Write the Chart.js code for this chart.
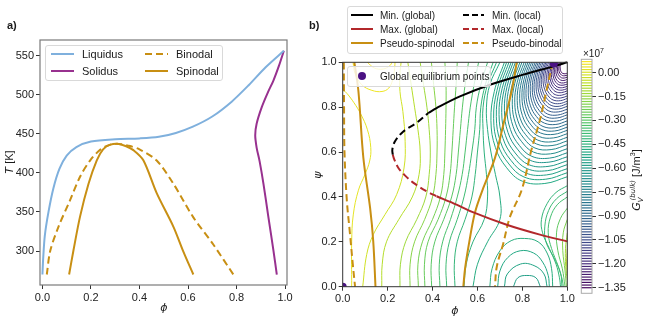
<!DOCTYPE html>
<html>
<head>
<meta charset="utf-8">
<script src="https://cdn.jsdelivr.net/npm/chart.js@4.4.1/dist/chart.umd.min.js"></script>
<style>
  body { margin:0; width:657px; height:321px; position:relative; overflow:hidden; background:#fff;
         font-family:"Liberation Sans", Arial, sans-serif; color:#1a1a1a; }
  canvas { position:absolute; top:0; }
  .txt { position:absolute; font-size:11px; white-space:nowrap; line-height:1; }
  .rot { transform: translate(-50%,-50%) rotate(-90deg); }
  .ctr { transform: translate(-50%,-50%); }
  .math { font-family:"DejaVu Sans", sans-serif; font-style:italic; }
  .leg { position:absolute; background:rgba(255,255,255,0.8); border:1px solid #d9d9d9; border-radius:3px; }
  .leg span { position:absolute; line-height:13px; white-space:nowrap; }
  .leg svg { position:absolute; }
</style>
</head>
<body>
<canvas id="ca" width="300" height="321" style="left:0"></canvas>
<canvas id="cb" width="280" height="321" style="left:300px"></canvas>
<canvas id="cc" width="82" height="321" style="left:575px"></canvas>

<div class="txt" style="left:7px;top:20px;font-weight:bold">a)</div>
<div class="txt" style="left:309px;top:20px;font-weight:bold">b)</div>
<div class="txt rot" style="left:9px;top:162px"><span class="math">T</span> [K]</div>
<div class="txt ctr math" style="left:164px;top:307px">ϕ</div>
<div class="txt ctr math" style="left:455px;top:310px">ϕ</div>
<div class="txt rot math" style="left:317px;top:175px">ψ</div>
<div class="txt" style="left:583px;top:47px;font-size:10px">×10<sup style="font-size:7px">7</sup></div>
<div class="txt rot" style="left:637px;top:180px"><span class="math">G</span><sub class="math" style="font-size:7px">V</sub><sup class="math" style="font-size:7px;margin-left:-3px">(bulk)</sup> [J/m<sup style="font-size:7px">3</sup>]</div>

<script>
// ---------- panel a: phase diagram ----------
const phiTicks = [0, 0.2, 0.4, 0.6, 0.8, 1.0];
const tTicks = [300, 350, 400, 450, 500, 550];
const liquidus = [[0.0,270],[0.003,290],[0.01,320],[0.025,350],[0.045,380],[0.07,405],[0.1,422],[0.14,433],[0.2,440],[0.3,443],[0.4,444],[0.48,446],[0.55,451],[0.62,459],[0.7,472],[0.78,491],[0.85,512],[0.92,535],[0.995,556]];
const solidus = [[0.966,270],[0.952,301],[0.931,344],[0.911,386],[0.895,415],[0.883,432],[0.877,448],[0.883,463],[0.904,484],[0.928,502],[0.952,518],[0.975,537],[0.995,556]];
const binodal = [[0.018,270],[0.032,300],[0.066,331],[0.114,365],[0.155,395],[0.197,416],[0.24,430],[0.28,436],[0.315,437],[0.35,435],[0.4,430],[0.47,416],[0.54,386],[0.62,344],[0.705,308],[0.787,270]];
const spinodal = [[0.11,270],[0.128,301],[0.155,344],[0.19,386],[0.224,416],[0.25,430],[0.28,436],[0.315,437],[0.345,434],[0.375,429],[0.416,416],[0.471,374],[0.54,331],[0.58,300],[0.622,270]];

// ---------- panel b: free energy landscape ----------
const psiTicks = [0, 0.2, 0.4, 0.6, 0.8, 1.0];
const cbarTicks = [0, -0.15, -0.30, -0.45, -0.60, -0.75, -0.90, -1.05, -1.20, -1.35];
const minGlobal = [[0.381,0.774],[0.418,0.796],[0.522,0.848],[0.656,0.900],[0.804,0.945],[0.938,0.982],[1.0,1.0]];
const minLocal = [[0.223,0.588],[0.221,0.611],[0.233,0.648],[0.270,0.692],[0.329,0.730],[0.381,0.774]];
const maxLocal = [[0.223,0.588],[0.230,0.566],[0.248,0.529],[0.277,0.496],[0.322,0.458],[0.374,0.425],[0.418,0.403]];
const maxGlobal = [[0.418,0.403],[0.507,0.366],[0.582,0.331],[0.730,0.276],[0.878,0.232],[1.0,0.202]];
const pSpinLeft = [[0.052,1.0],[0.070,0.871],[0.092,0.574],[0.122,0.351],[0.136,0.202],[0.146,0]];
const pSpinRight = [[0.775,1.0],[0.752,0.871],[0.715,0.722],[0.678,0.574],[0.626,0.440],[0.589,0.331],[0.564,0.202],[0.545,0.083],[0.537,0]];
const pBinLeft = [[0.005,1],[0.006,0.8],[0.008,0.6],[0.018,0.39],[0.032,0.24],[0.045,0.1],[0.055,0]];
const pBinRight = [[0.935,1.0],[0.908,0.877],[0.878,0.743],[0.84,0.609],[0.797,0.431],[0.745,0.312],[0.715,0.193],[0.686,0.089],[0.678,0]];
const eqPoints = [[0,0],[0.94,0.995]];

// contour lines (values x1e7 J/m3)
const psiGrid = [0,0.1,0.2,0.3,0.4,0.5,0.6,0.7,0.8,0.9,1.0];
const midLevels = [-0.08,-0.13,-0.18,-0.22,-0.26,-0.30,-0.34,-0.38,-0.42,-0.45,-0.48];
const midPhi = [
  [.174,.176,.195,.25,.31,.34,.345,.335,.32,.305,.29],
  [.255,.257,.28,.33,.37,.385,.39,.385,.375,.36,.345],
  [.30,.30,.32,.365,.40,.415,.42,.42,.415,.405,.395],
  [.337,.335,.355,.40,.435,.45,.455,.458,.46,.46,.455],
  [.366,.364,.38,.425,.46,.478,.486,.492,.498,.505,.51],
  [.396,.394,.41,.45,.485,.505,.515,.524,.533,.545,.56],
  [.433,.43,.445,.48,.51,.532,.545,.556,.568,.585,.605],
  [.463,.46,.475,.51,.54,.56,.575,.588,.595,.615,.645],
  [.50,.497,.51,.545,.575,.59,.60,.61,.615,.635,.67],
  [.54,.55,.58,.63,.645,.64,.63,.625,.625,.645,.685],
  [.58,.60,.645,.70,.70,.68,.66,.645,.64,.655,.70]
];
// arcs around the global minimum (top edge -> right edge)
const arcLevels = [-0.50,-0.525,-0.55,-0.575,-0.60,-0.625,-0.65,-0.675,-0.70,-0.725,-0.75,-0.775,-0.80,-0.825,-0.85,-0.875,-0.90,-0.925,-0.95,-0.975,-1.00,-1.025,-1.05,-1.075,-1.10,-1.125,-1.15,-1.175,-1.20,-1.225,-1.25,-1.27,-1.29,-1.31,-1.33];
const arcPhi = [
  [.72,.675,.66,.68,.73,.80,.90,1],
  [.730,.687,.672,.691,.740,.807,.904,1],
  [.740,.698,.684,.702,.749,.814,.907,1],
  [.750,.710,.696,.714,.759,.821,.911,1],
  [.759,.721,.708,.725,.768,.828,.914,1],
  [.769,.732,.720,.736,.778,.835,.918,1],
  [.779,.743,.731,.747,.787,.842,.921,1],
  [.789,.755,.743,.759,.797,.849,.925,1],
  [.798,.766,.755,.770,.806,.856,.928,1],
  [.808,.777,.766,.780,.815,.863,.932,1],
  [.817,.787,.777,.790,.823,.869,.935,1],
  [.825,.797,.788,.800,.831,.875,.938,1],
  [.833,.807,.798,.810,.839,.881,.941,1],
  [.841,.816,.807,.819,.847,.887,.944,1],
  [.849,.825,.816,.827,.854,.892,.946,1],
  [.857,.834,.826,.836,.862,.898,.949,1],
  [.864,.842,.835,.845,.869,.903,.952,1],
  [.871,.851,.844,.853,.876,.908,.955,1],
  [.878,.859,.852,.861,.883,.913,.957,1],
  [.885,.867,.861,.869,.890,.918,.960,1],
  [.892,.875,.869,.877,.896,.923,.962,1],
  [.899,.883,.877,.884,.902,.928,.964,1],
  [.905,.890,.884,.891,.908,.932,.966,1],
  [.911,.897,.892,.899,.914,.937,.969,1],
  [.917,.904,.900,.906,.920,.941,.971,1],
  [.924,.912,.908,.913,.927,.946,.973,1],
  [.930,.919,.915,.920,.933,.950,.975,1],
  [.936,.926,.922,.927,.938,.954,.977,1],
  [.941,.932,.929,.933,.943,.958,.979,1],
  [.947,.939,.936,.940,.949,.962,.981,1],
  [.952,.945,.942,.946,.954,.966,.983,1],
  [.958,.952,.949,.952,.960,.970,.985,1],
  [.964,.958,.956,.958,.965,.974,.987,1],
  [.969,.964,.962,.964,.970,.978,.989,1],
  [.973,.969,.968,.970,.974,.981,.991,1]
];
const arcPsi = [
  [1,.87,.74,.62,.53,.47,.46,.49],
  [1,.875,.749,.634,.547,.489,.479,.508],
  [1,.879,.758,.647,.563,.507,.498,.526],
  [1,.884,.767,.660,.580,.526,.517,.544],
  [1,.888,.776,.673,.596,.544,.536,.561],
  [1,.893,.786,.687,.613,.563,.555,.579],
  [1,.897,.795,.70,.629,.581,.573,.597],
  [1,.902,.804,.713,.646,.600,.592,.615],
  [1,.906,.813,.726,.662,.618,.611,.633],
  [1,.911,.822,.739,.677,.636,.629,.650],
  [1,.915,.830,.751,.692,.653,.646,.666],
  [1,.919,.838,.763,.706,.669,.663,.682],
  [1,.923,.845,.774,.720,.685,.679,.697],
  [1,.927,.853,.785,.733,.700,.694,.711],
  [1,.930,.860,.795,.746,.714,.708,.725],
  [1,.934,.867,.806,.759,.729,.723,.739],
  [1,.937,.874,.816,.772,.743,.738,.753],
  [1,.940,.881,.826,.784,.756,.752,.766],
  [1,.943,.887,.835,.796,.769,.765,.778],
  [1,.947,.894,.845,.808,.783,.779,.791],
  [1,.95,.90,.854,.819,.796,.792,.804],
  [1,.953,.906,.863,.830,.808,.804,.816],
  [1,.956,.912,.871,.840,.820,.816,.827],
  [1,.959,.918,.880,.851,.832,.829,.839],
  [1,.962,.923,.888,.861,.844,.841,.85],
  [1,.965,.929,.897,.872,.856,.853,.862],
  [1,.968,.935,.905,.883,.868,.865,.873],
  [1,.971,.940,.913,.892,.879,.876,.883],
  [1,.973,.945,.92,.901,.889,.887,.893],
  [1,.976,.951,.928,.911,.900,.898,.903],
  [1,.978,.956,.935,.92,.91,.908,.913],
  [1,.981,.961,.943,.930,.921,.919,.924],
  [1,.983,.966,.951,.939,.931,.930,.934],
  [1,.986,.971,.958,.947,.941,.940,.943],
  [1,.988,.975,.964,.955,.950,.949,.952]
];
const sideLevels = [0.03,-0.02,0.05,0.07,-0.47,-0.50,-0.53,-0.56,-0.42,-0.39,-0.36,-0.28,-0.20,-0.12,-0.04];
const sideLines = [
  [[0.04,0],[0.04,0.2],[0.047,0.32],[0.07,0.43],[0.099,0.5],[0.12,0.56],[0.125,0.62],[0.11,0.7],[0.08,0.77],[0.05,0.82],[0.02,0.86],[0,0.88]],
  [[0.089,0],[0.107,0.144],[0.136,0.232],[0.188,0.321],[0.24,0.41],[0.273,0.529],[0.278,0.648],[0.268,0.78],[0.255,0.87],[0.255,0.95],[0.26,1.0]],
  [[0.046,1],[0.055,0.95],[0.085,0.9],[0.13,0.875],[0.175,0.87],[0.205,0.885],[0.222,0.92],[0.23,0.96],[0.233,1.0]],
  [[0.11,1],[0.14,0.975],[0.18,0.97],[0.21,0.985],[0.22,1]],
  [[0.655,0],[0.665,0.08],[0.70,0.16],[0.75,0.205],[0.81,0.215],[0.87,0.2],[0.91,0.15],[0.93,0.08],[0.935,0]],
  [[0.69,0],[0.70,0.07],[0.735,0.13],[0.79,0.16],[0.85,0.15],[0.89,0.11],[0.915,0.05],[0.92,0]],
  [[0.72,0],[0.733,0.057],[0.792,0.101],[0.852,0.094],[0.896,0.057],[0.91,0]],
  [[0.76,0],[0.78,0.04],[0.82,0.05],[0.86,0.04],[0.88,0]],
  [[1,0.45],[0.95,0.42],[0.91,0.37],[0.885,0.3],[0.89,0.24],[0.92,0.17],[0.95,0.1],[0.965,0.04],[0.97,0]],
  [[1,0.425],[0.952,0.392],[0.917,0.34],[0.90,0.27],[0.905,0.2],[0.94,0.13],[0.97,0.06],[0.976,0]],
  [[1,0.40],[0.955,0.365],[0.925,0.31],[0.915,0.24],[0.93,0.17],[0.96,0.09],[0.978,0.03],[0.982,0]],
  [[1,0.35],[0.97,0.305],[0.952,0.24],[0.958,0.16],[0.978,0.08],[0.99,0]],
  [[1,0.30],[0.982,0.24],[0.98,0.16],[0.99,0.07],[0.996,0]],
  [[1,0.24],[0.992,0.17],[0.993,0.09],[1,0.03]],
  [[1,0.17],[0.997,0.11],[1,0.06]]
];

// ---------- styling ----------
const cbMin = -1.385, cbMax = 0.084;
const GOLD = '#c88f13', RED = '#b2282b', BLUE = '#7fb0dd', PURPLE = '#98318f', DOT = '#4b1283';
const VIR = ['#440154','#482475','#414487','#355f8d','#2a788e','#21918c','#22a884','#44bf70','#7ad151','#bddf26','#fde725'];

function hex(c) { return [1,3,5].map(i => parseInt(c.substr(i,2),16)); }
function viridis(v) {
  let t = Math.max(0, Math.min(1, (v - cbMin) / (cbMax - cbMin)));
  const i = Math.min(9, Math.floor(t * 10)), f = t * 10 - i;
  const a = hex(VIR[i]), b = hex(VIR[i+1]);
  return 'rgb(' + a.map((x,k) => Math.round(x + (b[k]-x)*f)).join(',') + ')';
}

Chart.defaults.font.family = '"Liberation Sans", Arial, sans-serif';
Chart.defaults.font.size = 11;
Chart.defaults.color = '#222';

const toXY = pts => pts.map(p => ({x: p[0], y: p[1]}));
const line = (pts, color, width, dash, order, tension) => ({
  data: toXY(pts), borderColor: color, borderWidth: width, borderDash: dash || [],
  pointRadius: 0, fill: false, tension: tension === undefined ? 0.35 : tension, order: order, clip: 1
});

const framePlugin = {
  id: 'frame',
  afterDraw(chart, args, opts) {
    const {left, top, right, bottom} = chart.chartArea;
    const ctx = chart.ctx;
    ctx.save();
    ctx.strokeStyle = opts.color; ctx.lineWidth = opts.width;
    ctx.strokeRect(left, top, right - left, bottom - top);
    ctx.restore();
  }
};

function axis(min, max, ticks, fmt, size, isX) {
  return {
    type: 'linear', min: min, max: max,
    afterFit: s => { if (isX) s.height = size; else s.width = size; },
    afterBuildTicks: s => { s.ticks = ticks.map(v => ({value: v})); },
    ticks: { callback: fmt, padding: 2, maxRotation: 0, autoSkip: false, color: '#222' },
    grid: { drawOnChartArea: false, drawTicks: true, tickLength: 4, color: '#333' },
    border: { display: false }
  };
}
const base = { responsive: false, animation: false, devicePixelRatio: 1, events: [] };

// panel a
new Chart(document.getElementById('ca'), {
  type: 'line',
  data: { datasets: [
    line(liquidus, BLUE, 2, [], 1, 0.3),
    line(solidus, PURPLE, 2, [], 1, 0.3),
    line(binodal, GOLD, 2, [7,4], 1, 0.3),
    line(spinodal, GOLD, 2, [], 1, 0.3)
  ]},
  options: Object.assign({}, base, {
    layout: { padding: { left: 0, right: 13, top: 40, bottom: 0 } },
    plugins: { legend: { display: false }, tooltip: { enabled: false }, frame: { color: '#7a7a7a', width: 1.2 } },
    scales: {
      x: axis(-0.01, 1.008, phiTicks, v => v.toFixed(1), 36, true),
      y: axis(256.6, 569.8, tTicks, v => String(v), 40, false)
    }
  }),
  plugins: [framePlugin]
});

// panel b
const contourSets = [];
midPhi.forEach((row, i) => contourSets.push(line(row.map((p, j) => [p, psiGrid[j]]), viridis(midLevels[i]), 1, [], 10, 0.4)));
arcPhi.forEach((row, i) => contourSets.push(line(row.map((p, j) => [p, arcPsi[i][j]]), viridis(arcLevels[i]), 1, [], 10, 0.4)));
sideLines.forEach((pts, i) => contourSets.push(line(pts, viridis(sideLevels[i]), 1, [], 10, 0.4)));
contourSets.forEach(d => d.clip = 0);

new Chart(document.getElementById('cb'), {
  type: 'line',
  data: { datasets: contourSets.concat([
    line(pSpinLeft, GOLD, 2, [], 5),
    line(pSpinRight, GOLD, 2, [], 5),
    line(pBinLeft, GOLD, 2, [7,4], 5),
    line(pBinRight, GOLD, 2, [7,4], 5),
    line(maxGlobal, RED, 2, [], 3),
    line(maxLocal, RED, 2, [7,4], 3),
    line(minGlobal, '#000', 2, [], 3),
    line(minLocal, '#000', 2, [7,4], 3),
    { data: toXY(eqPoints), showLine: false, pointRadius: 4, pointBorderWidth: 0,
      pointBackgroundColor: DOT, order: 0, clip: 0 }
  ])},
  options: Object.assign({}, base, {
    layout: { padding: { left: 0, right: 12.7, top: 62.3, bottom: 0 } },
    plugins: { legend: { display: false }, tooltip: { enabled: false }, frame: { color: '#333', width: 1 } },
    scales: {
      x: axis(0, 1, phiTicks, v => v.toFixed(1), 34.3, true),
      y: axis(0, 1, psiTicks, v => v.toFixed(1), 42.7, false)
    }
  }),
  plugins: [framePlugin]
});

// colorbar
const stripePlugin = {
  id: 'stripes',
  beforeDatasetsDraw(chart) {
    const {left, right} = chart.chartArea;
    const y = chart.scales.y, ctx = chart.ctx;
    ctx.save();
    ctx.lineWidth = 1.2;
    for (let v = -1.35; v <= 0.07; v += 0.0167) {
      const py = y.getPixelForValue(v);
      ctx.strokeStyle = viridis(v);
      ctx.beginPath(); ctx.moveTo(left, py); ctx.lineTo(right, py); ctx.stroke();
    }
    ctx.restore();
  }
};
const cbAxis = axis(cbMin, cbMax, cbarTicks, v => (v === 0 ? '0.00' : '\u2212' + Math.abs(v).toFixed(2)), 65, false);
cbAxis.position = 'right';
new Chart(document.getElementById('cc'), {
  type: 'line',
  data: { datasets: [] },
  options: Object.assign({}, base, {
    layout: { padding: { left: 6.3, right: 0, top: 59.3, bottom: 27.7 } },
    plugins: { legend: { display: false }, tooltip: { enabled: false }, frame: { color: '#aaa', width: 1 } },
    scales: { x: { type: 'linear', display: false, min: 0, max: 1 }, y: cbAxis }
  }),
  plugins: [stripePlugin, framePlugin]
});

// legends (matplotlib style boxes)
function makeLegend(x, y, w, h, fs, items) {
  const box = document.createElement('div');
  box.className = 'leg';
  Object.assign(box.style, { left: x + 'px', top: y + 'px', width: w + 'px', height: h + 'px', fontSize: fs + 'px' });
  let html = '';
  for (const it of items) {
    if (it.dot) {
      html += `<svg style="left:${it.sx - 5}px;top:${it.y - 5}px" width="10" height="10"><circle cx="5" cy="5" r="4" fill="${it.color}"/></svg>`;
    } else {
      html += `<svg style="left:${it.sx}px;top:${it.y - 4}px" width="${it.sw}" height="8"><line x1="0" y1="4" x2="${it.sw}" y2="4" stroke="${it.color}" stroke-width="2" ${it.dash ? `stroke-dasharray="${it.dash}"` : ''}/></svg>`;
    }
    html += `<span style="left:${it.tx}px;top:${it.y - 6.5}px">${it.text}</span>`;
  }
  box.innerHTML = html;
  document.body.appendChild(box);
}
makeLegend(45, 45, 176, 34, 11, [
  { sx: 5, sw: 23, y: 8, tx: 36, text: 'Liquidus', color: BLUE },
  { sx: 5, sw: 23, y: 25, tx: 36, text: 'Solidus', color: PURPLE },
  { sx: 99, sw: 23, y: 8, tx: 130, text: 'Binodal', color: GOLD, dash: '7,4' },
  { sx: 99, sw: 23, y: 25, tx: 130, text: 'Spinodal', color: GOLD }
]);
makeLegend(347, 6, 214, 46, 10, [
  { sx: 3, sw: 22, y: 8, tx: 32, text: 'Min. (global)', color: '#000' },
  { sx: 3, sw: 22, y: 22, tx: 32, text: 'Max. (global)', color: RED },
  { sx: 3, sw: 22, y: 36, tx: 32, text: 'Pseudo-spinodal', color: GOLD },
  { sx: 115, sw: 21, y: 8, tx: 144, text: 'Min. (local)', color: '#000', dash: '6,3' },
  { sx: 115, sw: 21, y: 22, tx: 144, text: 'Max. (local)', color: RED, dash: '6,3' },
  { sx: 115, sw: 21, y: 36, tx: 144, text: 'Pseudo-binodal', color: GOLD, dash: '6,3' }
]);
makeLegend(347, 66, 142, 19, 10, [
  { dot: true, sx: 14, y: 9, tx: 32, text: 'Global equilibrium points', color: DOT }
]);
</script>
</body>
</html>
